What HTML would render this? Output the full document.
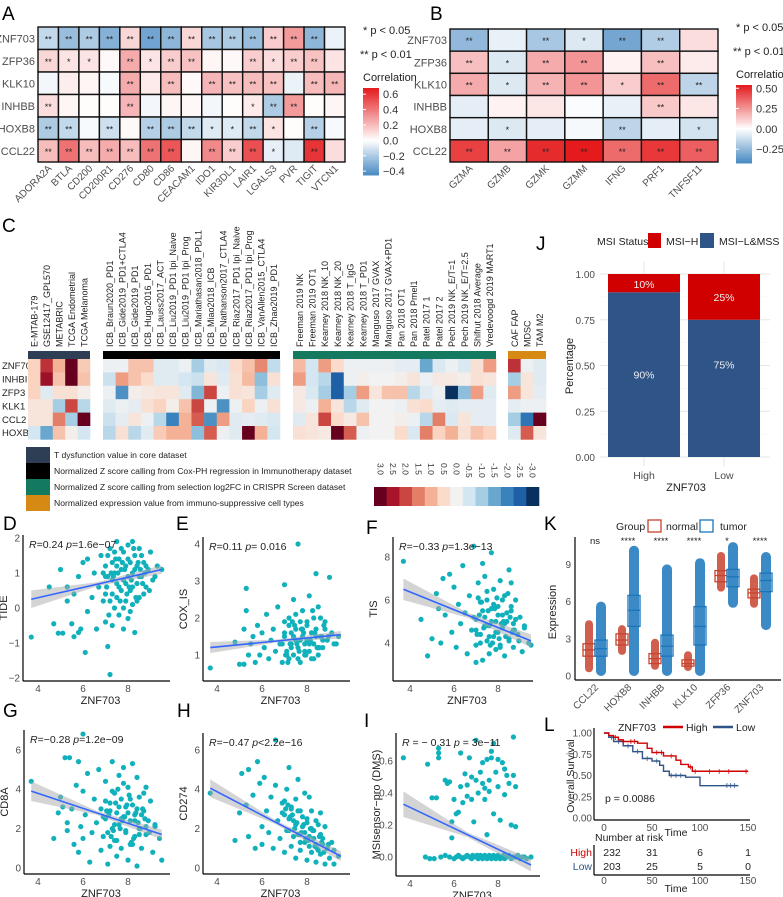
<!DOCTYPE html>
<html><head><meta charset="utf-8"><style>
body{margin:0;background:#fff}
svg{display:block;font-family:"Liberation Sans",sans-serif}
</style></head><body>
<svg id="fig" width="783" height="897" viewBox="0 0 783 897" xmlns="http://www.w3.org/2000/svg">
<rect width="783" height="897" fill="#fff"/>
<text x="2" y="20" font-size="19">A</text>
<text x="430" y="20" font-size="19">B</text>
<text x="2" y="232" font-size="19">C</text>
<text x="536" y="250" font-size="19">J</text>
<text x="3" y="530" font-size="19">D</text>
<text x="176" y="530" font-size="19">E</text>
<text x="366" y="534" font-size="19">F</text>
<text x="544" y="530" font-size="19">K</text>
<text x="3" y="717" font-size="19">G</text>
<text x="177" y="717" font-size="19">H</text>
<text x="364" y="727" font-size="19">I</text>
<text x="544" y="731" font-size="19">L</text>
</svg>
<script>
// ---------- DATA ----------
const aRows=['ZNF703','ZFP36','KLK10','INHBB','HOXB8','CCL22'];
const aCols=['ADORA2A','BTLA','CD200','CD200R1','CD276','CD80','CD86','CEACAM1','IDO1','KIR3DL1','LAIR1','LGALS3','PVR','TIGIT','VTCN1'];
const aVals=[
[-0.15,-0.25,-0.2,-0.3,0.12,-0.35,-0.28,0.12,-0.22,-0.2,-0.25,0.15,0.3,-0.28,-0.05],
[0.12,0.08,0.08,0.02,0.25,0.08,0.15,0.18,0.03,0.02,0.15,0.1,0.15,0.18,0.08],
[-0.03,0.05,0.03,-0.02,0.25,0.06,0.2,0.02,0.22,0.18,0.2,0.18,-0.05,0.2,0.22],
[0.1,0.03,0.01,0.01,0.22,-0.03,0.03,0.02,-0.03,0.01,0.06,-0.2,0.3,0.01,0.03],
[-0.2,-0.15,-0.02,-0.12,0.02,-0.18,-0.2,-0.15,-0.08,-0.08,-0.15,0.08,0.01,-0.18,-0.02],
[0.2,0.42,0.2,0.25,0.2,0.42,0.5,0.03,0.35,0.15,0.52,-0.06,-0.08,0.6,0.1]];
const aSig=[
['**','**','**','**','**','**','**','**','**','**','**','**','**','**',''],
['**','*','*','','**','*','**','**','','','**','*','**','**',''],
['','','','','**','','**','','**','**','**','**','','**','**'],
['**','','','','**','','','','','','*','**','**','',''],
['**','**','','**','','**','**','**','*','*','**','*','','**',''],
['**','**','**','**','**','**','**','','**','**','**','*','','**','']];
const aTicks=[0.6,0.4,0.2,0.0,-0.2,-0.4];

const bCols=['GZMA','GZMB','GZMK','GZMM','IFNG','PRF1','TNFSF11'];
const bVals=[
[-0.25,-0.05,-0.2,-0.08,-0.32,-0.18,0.08],
[0.15,-0.08,0.2,0.25,0.03,0.15,0.05],
[0.2,-0.08,0.18,0.25,0.12,0.35,-0.15],
[-0.06,0.03,0.06,-0.01,-0.05,0.13,0.06],
[-0.06,-0.08,-0.06,-0.02,-0.15,-0.06,-0.1],
[0.45,0.22,0.5,0.58,0.35,0.47,0.38]];
const bSig=[
['**','','**','*','**','**',''],
['**','*','**','**','','**',''],
['**','*','**','**','*','**','**'],
['','','','','','**',''],
['','*','','','**','','*'],
['**','**','**','**','**','**','**']];
const bTicks=[0.5,0.25,0.0,-0.25];

const cRows=['ZNF70','INHBI','ZFP3','KLK1','CCL2','HOXB'];
const cLab1=['E-MTAB-179','GSE12417_GPL570','METABRIC','TCGA Endometrial','TCGA Melanoma'];
const cLab2=['ICB_Braun2020_PD1','ICB_Gide2019_PD1+CTLA4','ICB_Gide2019_PD1','ICB_Hugo2016_PD1','ICB_Lauss2017_ACT','ICB_Liu2019_PD1 Ipi_Naive','ICB_Liu2019_PD1 Ipi_Prog','ICB_Mariathasan2018_PDL1','ICB_Miao2018_ICB','ICB_Nathanson2017_CTLA4','ICB_Riaz2017_PD1 Ipi_Naive','ICB_Riaz2017_PD1 Ipi_Prog','ICB_VanAllen2015_CTLA4','ICB_Zhao2019_PD1'];
const cLab3=['Freeman 2019 NK','Freeman 2019 OT1','Kearney 2018 NK_10','Kearney 2018 NK_20','Kearney 2018 T_IgG','Kearney 2018 T_PD1','Manguso 2017 GVAX','Manguso 2017 GVAX+PD1','Pan 2018 OT1','Pan 2018 Pmel1','Patel 2017 1','Patel 2017 2','Pech 2019 NK_E/T=1','Pech 2019 NK_E/T=2.5','Shifrut 2018 Average','Vredevoogd 2019 MART1'];
const cLab4=['CAF FAP','MDSC','TAM M2'];
const cG1=[[0.6,2.2,1.0,3,0.7],[0.6,2.6,0.8,3,0.8],[0.6,-0.3,0.4,0.4,0.1],[0.3,0.3,-1.0,2.0,-0.8],[0.3,0.3,1.5,-1.0,3],[-0.5,-1.5,0.8,0.1,-0.5]];
const cG2=[
[-0.1,-0.1,0.8,0.8,-0.3,-0.3,-0.1,-1.0,-0.3,-0.4,0.5,0.8,1.4,-0.7],
[-0.6,1.2,0.8,0.5,-0.3,-0.3,-0.5,-0.6,0.3,-0.3,0.4,0.9,-1.2,0.4],
[-0.1,-1.8,0.1,0.2,0.3,0.3,-0.3,-1.3,2.0,-0.1,0.4,0.3,-1.0,-0.3],
[-0.3,-0.1,-0.2,0.4,0.6,0.1,0.8,2.0,-0.1,-1.8,-0.1,0.6,-0.1,0.4],
[-0.6,-0.2,0.3,-0.1,-0.8,-2.0,1.0,1.8,-1.8,1.2,-0.3,-0.2,-0.3,-0.4],
[-0.8,0.4,-0.8,-0.3,0.7,1.0,1.0,-1.2,1.8,-0.1,-0.3,3,1.0,-0.5]];
const cG3=[
[0.9,-0.5,1.2,0.5,-0.1,-0.1,-0.1,-0.1,-0.2,-0.2,-1.5,-0.4,-0.1,-0.4,0.4,1.2],
[1.2,-0.5,-0.8,-2.5,-0.1,0.1,0,0,0.1,0.3,-0.1,0.2,0.2,0.1,0.4,0.3],
[0.2,-0.4,-1.0,-2.5,-1.0,1.2,0.3,0.8,0.8,-0.8,-0.3,-0.1,-3,-1.2,1.2,-0.3],
[0.2,-0.1,1.0,0.3,-0.8,-0.3,0,0,-0.1,0.4,0.5,-0.2,-0.3,-0.2,-0.2,-0.2],
[-0.3,0.3,2.0,0.5,0.2,0.8,0,0,0.1,-0.1,-0.8,1.5,-0.4,0.3,-0.2,-0.2],
[0.4,0.3,0.2,3,1.8,-0.1,0,0,0.5,-0.4,1.5,0.6,1.0,0.4,0.8,0.6]];
const cG4=[[2.2,-0.1,-0.3],[-1.0,0.3,-0.3],[1.2,0.3,-0.2],[-0.2,-0.1,-0.1],[-1.0,-2.2,3],[-0.3,1.8,0.3]];
const cScaleLabels=['3.0','2.5','2.0','1.5','1.0','0.5','0.0','-0.5','-1.0','-1.5','-2.0','-2.5','-3.0'];
const cLegendText=['T dysfunction value in core dataset','Normalized Z score calling from Cox-PH regression in Immunotherapy dataset','Normalized Z score calling from selection log2FC in CRISPR Screen dataset','Normalized expression value from immuno-suppressive cell types'];

const jGroups=['High','Low'];
const jMsiH=[10,25];
const jMsiL=[90,75];
const jTicks=[0,0.25,0.5,0.75,1];

const dX=[3.7,4.7,4.9,5.1,5.3,5.5,5.6,5.8,5.9,6.1,6.2,5.0,5.3,5.8,6.0,6.2,6.5,4.5,5.6,6.4,6.7,6.8,6.9,7.0,7.0,7.1,7.2,7.2,7.3,7.3,7.4,7.4,7.5,7.5,7.6,7.6,7.7,7.7,7.8,7.8,7.9,7.9,8.0,8.0,8.0,8.1,8.1,8.2,8.2,8.3,8.3,8.4,8.4,8.5,8.5,8.6,8.7,8.8,8.9,9.0,9.1,9.3,9.5,7.0,7.5,7.8,8.2,6.6,7.1,7.3,
6.9,7.0,7.1,7.2,7.3,7.4,7.5,7.6,7.7,7.8,7.9,8.0,8.1,8.2,8.3,8.4,8.5,8.6,8.7,8.8,7.05,7.25,7.45,7.65,7.85,8.05,8.25,8.45,8.65,7.15,7.35,7.55,7.75,7.95,8.15,8.35,8.55,8.75,8.95,9.2];
const dY=[-0.83,-0.45,-0.72,-0.72,0.2,-0.45,-0.82,-0.7,-0.6,-1.27,-0.1,1.1,0.6,0.9,1.3,1.4,1.0,0.6,0.4,0.3,0.6,1.5,0.2,1.2,-0.4,0.9,1.7,-1.9,0.4,1.3,0.0,1.0,0.7,1.9,-0.2,1.4,0.5,1.1,0.8,1.6,0.2,1.2,-0.3,0.9,1.8,0.5,1.3,0.1,1.0,1.5,-0.7,0.7,1.2,0.3,1.7,0.9,1.3,0.6,1.1,1.6,0.8,1.2,1.1,0.9,0.3,-0.6,1.9,-0.6,-1.1,-0.5,
1.0,0.4,1.5,0.2,0.8,1.6,1.2,0.6,1.7,0.0,0.7,1.4,-0.1,0.6,1.1,0.2,0.9,1.5,0.4,1.2,0.6,1.0,1.4,0.2,1.1,0.6,1.7,1.3,0.7,-0.2,0.9,1.0,1.3,0.4,0.8,0.3,1.1,1.0,0.5,0.9];
const dFit=[0.25,1.1];
const eX=[3.7,4.8,5.0,5.2,5.2,5.3,5.3,5.4,5.5,5.6,5.7,5.8,5.9,6.0,6.1,6.2,6.3,6.4,6.5,6.6,6.7,6.8,6.9,7.0,7.0,7.1,7.2,7.2,7.3,7.3,7.4,7.4,7.5,7.5,7.6,7.6,7.7,7.7,7.8,7.8,7.9,7.9,8.0,8.0,8.1,8.1,8.2,8.2,8.3,8.3,8.4,8.5,8.5,8.6,8.7,8.8,8.9,9.0,9.1,9.3,8.4,7.0,9.4,
6.9,7.0,7.1,7.2,7.3,7.4,7.5,7.6,7.7,7.8,7.9,8.0,8.1,8.2,8.3,8.4,8.5,8.6,8.7,8.8,7.05,7.25,7.45,7.65,7.85,8.05,8.25,8.45,8.65,7.15,7.35,7.55,7.75,7.95,8.15,8.35,8.55,8.75,8.95,9.2];
const eY=[0.65,1.35,0.75,0.75,1.7,2.8,2.2,1.0,1.3,1.5,0.8,1.8,1.0,1.6,1.2,2.1,0.9,1.4,1.7,1.1,2.3,1.3,0.8,1.9,1.5,1.1,2.0,0.9,1.6,1.3,2.5,1.0,1.7,1.4,4.0,1.2,1.9,0.8,1.5,2.2,1.3,1.0,1.8,1.4,2.6,1.1,1.6,0.9,2.0,1.3,1.7,1.0,2.3,1.5,1.2,1.9,1.4,3.1,1.6,1.3,3.2,2.9,1.5,
1.3,1.6,1.0,1.8,1.2,1.5,2.1,0.9,1.4,1.7,1.1,1.9,1.3,1.6,0.9,1.5,1.2,2.0,1.4,1.7,1.0,1.3,1.8,1.1,1.6,1.4,2.2,1.2,1.5,0.8,1.9,1.3,1.7,1.0,1.4,1.6,1.2,1.8,1.5,1.3];
const eFit=[1.2,1.55];
const fX=[3.7,4.5,4.8,5.0,5.2,5.3,5.4,5.5,5.6,5.8,5.9,6.0,6.1,6.2,6.3,6.4,6.5,6.6,6.7,6.8,6.9,7.0,7.0,7.1,7.2,7.2,7.3,7.4,7.4,7.5,7.5,7.6,7.6,7.7,7.7,7.8,7.8,7.9,7.9,8.0,8.0,8.1,8.1,8.2,8.2,8.3,8.3,8.4,8.5,8.5,8.6,8.7,8.7,8.8,8.9,9.0,9.1,9.2,9.4,9.5,7.3,8.6,7.0,
6.9,7.0,7.1,7.2,7.3,7.4,7.5,7.6,7.7,7.8,7.9,8.0,8.1,8.2,8.3,8.4,8.5,8.6,8.7,8.8,7.05,7.25,7.45,7.65,7.85,8.05,8.25,8.45,8.65,7.15,7.35,7.55,7.75,7.95,8.15,8.35,8.55,8.75,8.95,9.2];
const fY=[7.8,5.1,3.4,4.2,6.3,5.6,4.0,7.0,5.3,7.2,4.5,6.6,3.8,5.8,4.9,7.6,5.4,3.5,6.2,4.6,8.5,5.1,3.9,6.8,4.4,5.9,3.2,5.2,7.1,4.1,6.0,4.8,3.5,5.6,8.2,4.3,6.5,5.0,3.7,5.7,4.5,6.9,3.9,5.3,4.7,6.2,3.4,5.0,4.2,7.4,5.5,3.8,4.9,6.0,4.4,5.2,3.6,4.7,4.0,3.9,7.7,6.8,3.1,
5.2,4.6,6.1,4.0,5.5,4.8,6.4,4.3,5.0,5.8,4.5,5.3,3.8,6.0,4.9,5.4,4.1,5.7,4.6,5.1,4.4,5.9,4.8,3.9,5.6,4.2,5.0,6.3,4.5,5.3,4.7,5.5,4.0,6.1,4.9,4.3,5.2,4.6,4.1,4.8];
const fFit=[6.5,4.1];
const gX=[3.7,4.7,4.9,5.0,5.1,5.2,5.3,5.3,5.4,5.5,5.6,5.7,5.8,5.8,5.9,6.0,6.0,6.1,6.2,6.3,6.4,6.5,6.6,6.7,6.8,6.8,6.9,7.0,7.0,7.1,7.2,7.2,7.3,7.3,7.4,7.4,7.5,7.5,7.6,7.6,7.7,7.7,7.8,7.8,7.9,7.9,8.0,8.0,8.1,8.1,8.2,8.2,8.3,8.3,8.4,8.4,8.5,8.5,8.6,8.7,8.8,8.8,8.9,9.0,9.1,9.2,9.5,9.4,6.0,
6.9,7.0,7.1,7.2,7.3,7.4,7.5,7.6,7.7,7.8,7.9,8.0,8.1,8.2,8.3,8.4,8.5,8.6,8.7,8.8,7.05,7.25,7.45,7.65,7.85,8.05,8.25,8.45,8.65,7.15,7.35,7.55,7.75,7.95,8.15,8.35,8.55,8.75,8.95,9.2];
const gY=[4.4,1.5,2.8,3.6,3.1,5.6,1.9,2.3,5.6,3.0,1.2,4.2,5.4,0.8,2.1,3.9,1.5,2.7,4.8,0.3,1.8,3.5,2.3,5.0,0.9,3.0,1.6,4.4,2.5,0.2,3.3,1.1,5.4,2.0,3.8,1.4,2.8,0.6,4.7,2.2,3.5,1.0,2.6,5.1,1.8,3.1,0.4,4.1,2.4,1.2,5.3,3.2,1.6,2.7,0.1,4.6,2.0,3.6,1.0,2.9,4.1,1.7,2.4,3.4,0.8,2.1,0.4,1.5,6.8,
2.6,3.4,1.8,2.9,3.9,2.2,1.4,3.1,2.5,4.3,1.9,2.8,3.5,1.2,2.4,3.0,1.7,2.7,3.8,2.1,2.9,1.6,3.3,2.0,2.6,3.7,1.5,2.3,3.0,2.7,1.9,4.0,2.4,3.2,1.3,2.8,2.0,2.5,1.8,2.2];
const gFit=[3.9,1.7];
const hX=[3.7,4.8,5.0,5.1,5.3,5.4,5.4,5.6,5.7,5.8,5.9,6.0,6.0,6.1,6.2,6.3,6.4,6.5,6.6,6.6,6.7,6.8,6.9,7.0,7.0,7.1,7.2,7.3,7.3,7.4,7.5,7.5,7.6,7.7,7.7,7.8,7.9,7.9,8.0,8.0,8.1,8.2,8.2,8.3,8.4,8.4,8.5,8.6,8.7,8.8,8.9,9.0,9.1,9.2,9.4,7.2,7.6,8.1,8.6,
6.9,7.0,7.1,7.2,7.3,7.4,7.5,7.6,7.7,7.8,7.9,8.0,8.1,8.2,8.3,8.4,8.5,8.6,8.7,8.8,7.05,7.25,7.45,7.65,7.85,8.05,8.25,8.45,8.65,7.15,7.35,7.55,7.75,7.95,8.15,8.35,8.55,8.75,8.95,9.2];
const hY=[3.8,1.4,2.8,4.8,3.2,1.6,5.0,3.7,1.0,5.4,4.3,2.1,1.2,4.6,2.9,1.8,3.6,1.0,4.2,6.5,2.4,1.5,3.3,0.8,2.7,4.0,1.9,3.0,1.1,2.4,0.5,3.5,1.7,2.9,0.9,2.1,1.3,3.8,0.4,2.5,1.6,0.8,2.9,1.9,0.3,1.2,2.2,0.7,1.5,0.2,1.0,0.5,1.3,0.2,0.6,5.1,4.5,3.6,2.8,
2.8,3.4,1.9,2.5,3.1,1.6,2.2,2.9,1.3,2.6,1.8,2.3,1.1,2.0,1.5,2.4,0.9,1.7,1.2,2.1,3.0,2.6,2.0,1.7,2.2,1.4,1.9,1.0,1.3,3.2,2.7,2.3,1.8,1.5,2.0,1.1,1.6,0.8,1.2,0.9];
const hFit=[4.05,0.6];
const iX=[3.7,4.8,5.0,5.2,5.3,5.3,5.3,5.6,5.7,5.8,5.9,5.9,6.0,6.1,6.2,6.3,6.3,6.4,6.5,6.6,6.6,6.7,6.8,6.8,6.9,7.0,7.0,7.1,7.2,7.3,7.3,7.4,7.4,7.5,7.5,7.6,7.6,7.7,7.7,7.8,7.8,7.9,8.0,8.0,8.1,8.2,8.3,8.3,8.4,8.5,8.6,8.7,8.7,8.8,8.8,
4.7,4.9,5.1,5.4,5.6,5.8,6.0,6.1,6.2,6.3,6.4,6.5,6.6,6.7,6.8,6.85,6.9,7.0,7.05,7.1,7.15,7.2,7.25,7.3,7.35,7.4,7.45,7.5,7.55,7.6,7.65,7.7,7.75,7.8,7.85,7.9,7.95,8.0,8.05,8.1,8.15,8.2,8.25,8.3,8.35,8.4,8.5,8.6,8.7,8.8,8.9,9.0,9.1,9.2,9.3,9.5];
const iY=[0.62,0.58,0.37,0.37,0.68,0.65,0.62,0.48,0.46,0.47,0.22,0.12,0.36,0.27,0.28,0.65,0.44,0.34,0.52,0.45,0.38,0.62,0.50,0.36,0.22,0.73,0.48,0.40,0.53,0.46,0.59,0.43,0.36,0.61,0.14,0.48,0.41,0.66,0.62,0.27,0.71,0.53,0.44,0.61,0.23,0.59,0.55,0.39,0.51,0.46,0.20,0.75,0.51,0.44,0.19,
0.0,-0.01,-0.01,0.0,0.01,0.0,-0.01,0.0,0.01,0.0,-0.01,0.0,0.01,0.0,-0.01,0.01,0.0,0.0,0.01,-0.01,0.0,0.01,0.0,-0.01,0.0,0.01,0.0,-0.01,0.0,0.01,0.0,-0.01,0.0,0.01,0.0,-0.01,0.0,0.01,0.0,-0.01,0.0,0.0,0.01,-0.01,0.0,0.0,0.01,-0.01,0.0,0.0,0.01,-0.01,0.0,0.0,-0.01,0.0];
const iFit=[0.33,-0.05];

const kGenes=['CCL22','HOXB8','INHBB','KLK10','ZFP36','ZNF703'];
const kSigLabels=['ns','****','****','****','*','****'];
const kNormal=[[0.3,1.6,2.1,2.6,4.5],[1.7,2.5,2.9,3.4,4.1],[0.5,1.0,1.4,1.8,3.0],[0.4,0.8,1.0,1.3,2.0],[6.8,7.6,8.1,8.5,10.0],[5.5,6.3,6.7,7.0,8.2]];
const kTumor=[[0,1.6,2.2,2.9,6.0],[0,4.0,5.3,6.5,10.5],[0,1.6,2.4,3.3,9.0],[0,2.5,4.0,5.6,9.5],[5.5,7.2,8.0,8.6,10.8],[3.7,6.8,7.7,8.3,10.0]];
const kTicks=[0,3,6,9];

const lHighT=[0,5,10,15,20,35,45,50,62,75,80,88,92,150];
const lHighS=[1,0.97,0.95,0.92,0.9,0.88,0.82,0.77,0.73,0.68,0.63,0.6,0.55,0.55];
const lLowT=[0,5,10,20,30,40,50,58,62,68,85,100,140];
const lLowS=[1,0.95,0.9,0.85,0.78,0.7,0.67,0.62,0.55,0.5,0.48,0.38,0.38];
const lHighCens=[12,20,28,32,55,60,70,90,95,110,120,130,148];
const lLowCens=[8,15,25,35,45,55,70,75,80,128,132,136];
const lRiskTimes=[0,50,100,150];
const lRiskHigh=[232,31,6,1];
const lRiskLow=[203,25,5,0];
const lYTicks=[1,0.75,0.5,0.25,0];

// ---------- HELPERS ----------
const NS='http://www.w3.org/2000/svg';
const svg=document.getElementById('fig');
function mk(tag,attrs,parent){const e=document.createElementNS(NS,tag);for(const k in attrs)e.setAttribute(k,attrs[k]);(parent||svg).appendChild(e);return e;}
function tx(s,attrs,parent){const e=mk('text',attrs,parent);e.textContent=s;return e;}
function mix(a,b,t){return 'rgb('+a.map((v,i)=>Math.round(v+(b[i]-v)*t)).join(',')+')';}
const RED=[228,26,28],BLUE=[72,138,194],WHITE=[255,255,255];
function divColor(v,mn,mx){if(v>=0)return mix(WHITE,RED,Math.min(1,v/mx));return mix(WHITE,BLUE,Math.min(1,v/mn));}
const C13=[[103,0,31],[168,21,42],[203,70,65],[228,127,103],[244,177,150],[251,220,204],[242,242,242],[212,230,241],[165,205,227],[106,167,207],[58,130,189],[31,95,165],[9,48,95]];
function cColor(v){const p=(3-Math.max(-3,Math.min(3,v)))/0.5;const i=Math.min(11,Math.floor(p));const t=p-i;return mix(C13[i],C13[i+1],t);}

// ---------- HEATMAP A / B ----------
function corrHeat(rows,cols,vals,sig,x0,y0,w,h,mn,mx,tag){
  const cw=w/cols.length,rh=h/rows.length;
  rows.forEach((r,i)=>{
    const t=tx(r,{x:x0-3,y:y0+rh*i+rh/2+4,'font-size':11,'text-anchor':'end',fill:'#4d4d4d'});
    
    
  });
  vals.forEach((row,i)=>row.forEach((v,j)=>{
    const c=mk('rect',{x:x0+j*cw,y:y0+i*rh,width:cw,height:rh,fill:divColor(v,mn,mx),stroke:'#111','stroke-width':1.4});
    
    
    if(sig[i][j]){const s=tx(sig[i][j],{x:x0+j*cw+cw/2,y:y0+i*rh+rh/2+4,'font-size':9,'text-anchor':'middle',fill:'#222'});
      
      }
  }));
  cols.forEach((c,j)=>{
    const cx=x0+j*cw+cw/2+4,cy=y0+h+7;
    const t=tx(c,{x:cx,y:cy,'font-size':10,'text-anchor':'end',fill:'#4d4d4d',transform:'rotate(-45 '+cx+' '+cy+')'});
    
    
  });
}
corrHeat(aRows,aCols,aVals,aSig,38,27,307,135,-0.45,0.68,'a');
corrHeat(aRows,bCols,bVals,bSig,450,29,268,133,-0.42,0.54,'b');

function corrLegend(x,ytop,ybot,mn,mx,ticks,tag){
  const p1=tx('* p < 0.05',{x:x,y:ytop-54,'font-size':11,fill:'#222'});
  
  
  const p2=tx('** p < 0.01',{x:x-3,y:ytop-30,'font-size':11,fill:'#222'});
  
  
  const ct=tx('Correlation',{x:x,y:ytop-7,'font-size':11,fill:'#222'});
  
  
  const n=40,hh=(ybot-ytop)/n;
  for(let k=0;k<n;k++){const v=mx-(mx-mn)*(k+0.5)/n;
    const r=mk('rect',{x:x,y:ytop+k*hh,width:16,height:hh+0.5,fill:divColor(v,mn,mx)});
    
    }
  ticks.forEach(tv=>{const y=ytop+(mx-tv)/(mx-mn)*(ybot-ytop);
    const l=mk('line',{x1:x,x2:x+3,y1:y,y2:y,stroke:'#fff'});
    
    
    const t=tx(tv.toFixed(tag==='a'?1:2).replace('-','\u2212'),{x:x+20,y:y+4,'font-size':11,fill:'#333'});
    
    });
}
corrLegend(363,88,175,-0.45,0.68,aTicks,'a');
corrLegend(736,85,163,-0.42,0.54,bTicks,'b');

// ---------- HEATMAP C ----------
const cGroups=[[cG1,cLab1,28,90,'#2e3f55'],[cG2,cLab2,103,280,'#000000'],[cG3,cLab3,293,496,'#147a5f'],[cG4,cLab4,508,546,'#d68a13']];
const cTop=359,cRh=13.4;
cRows.forEach((r,i)=>{const t=tx(r,{x:2,y:cTop+cRh*i+cRh/2+3.5,'font-size':9.5,fill:'#222'});
  
  });
cGroups.forEach((g,gi)=>{
  const [vals,labs,x0,x1,col]=g;const cw=(x1-x0)/labs.length;
  const bar=mk('rect',{x:x0,y:351,width:x1-x0,height:8,fill:col});
  
  
  labs.forEach((lb,j)=>{const lx=x0+j*cw+cw/2+3.5;
    const t=tx(lb,{x:lx,y:347,'font-size':9,fill:'#222',transform:'rotate(-90 '+lx+' 347)'});
    
    });
  vals.forEach((row,i)=>row.forEach((v,j)=>{
    const r=mk('rect',{x:x0+j*cw,y:cTop+i*cRh,width:cw+0.3,height:cRh+0.3,fill:cColor(v)});
    
    }));
});
cLegendText.forEach((s,i)=>{
  const r=mk('rect',{x:26,y:447+i*16,width:24,height:16,fill:cGroups[i][4]});
  
  
  const t=tx(s,{x:54,y:458+i*16,'font-size':8.6,fill:'#222'});
  
  });
cScaleLabels.forEach((s,i)=>{const sw=165/13,x=374+i*sw;
  const r=mk('rect',{x:x,y:487,width:sw+0.3,height:19,fill:mix(C13[i],C13[i],0)});
  
  
  const lx=x+sw/2-3;
  const t=tx(s,{x:lx,y:463,'font-size':8.6,fill:'#333',transform:'rotate(90 '+lx+' 463)'});
  
  });

// ---------- J stacked bars ----------
{const y0=457,y1=274,H=y0-y1,bx=[608,688],bw=72;
 const mt=tx('MSI Status',{x:597,y:245,'font-size':10.5,fill:'#222'});
 
 
 const r1=mk('rect',{x:648,y:233,width:13,height:15,fill:'#d10000'});
 
 
 const t1=tx('MSI\u2212H',{x:666,y:245,'font-size':10.5,fill:'#222'});
 
 
 const r2=mk('rect',{x:700,y:233,width:14,height:15,fill:'#2f5488'});
 
 
 const t2=tx('MSI\u2212L&MSS',{x:719,y:245,'font-size':10.5,fill:'#222'});
 
 
 for(let k=0;k<=8;k++){const y=y0-H*k/8;
   const g=mk('line',{x1:600,x2:770,y1:y,y2:y,stroke:k%2?'#f3f3f3':'#e6e6e6','stroke-width':k%2?0.6:1});
   
   }
 jTicks.forEach(v=>{const t=tx(v.toFixed(2),{x:595,y:y0-H*v+4,'font-size':10,fill:'#4d4d4d','text-anchor':'end'});
   
   });
 jGroups.forEach((g,i)=>{
   const vg=mk('line',{x1:bx[i]+bw/2,x2:bx[i]+bw/2,y1:262,y2:466,stroke:'#e6e6e6'});
   
   
   const lowH=H*jMsiL[i]/100,hiH=H*jMsiH[i]/100;
   const b1=mk('rect',{x:bx[i],y:y0-lowH,width:bw,height:lowH,fill:'#2f5488'});
   
   
   const b2=mk('rect',{x:bx[i],y:y0-lowH-hiH,width:bw,height:hiH,fill:'#d10000'});
   
   
   const l1=tx(jMsiL[i]+'%',{x:bx[i]+bw/2,y:y0-lowH/2+(i?-20:4),'font-size':10.5,fill:'#eee','text-anchor':'middle'});
   
   
   const l2=tx(jMsiH[i]+'%',{x:bx[i]+bw/2,y:y0-lowH-hiH/2+4+(i?0:1),'font-size':10.5,fill:'#eee','text-anchor':'middle'});
   
   
   const xl=tx(g,{x:bx[i]+bw/2,y:479,'font-size':10.5,fill:'#4d4d4d','text-anchor':'middle'});
   
   });
 const xt=tx('ZNF703',{x:686,y:491,'font-size':11,fill:'#222','text-anchor':'middle'});
 
 
 const yt=tx('Percentage',{x:573,y:366,'font-size':11,fill:'#222','text-anchor':'middle',transform:'rotate(-90 573 366)'});
 
 }

// ---------- SCATTERS ----------
function scatter(xs,ys,fit,cfg){
  const px=x=>cfg.ox+(x-4)*cfg.sx, py=y=>cfg.oy-(y-cfg.y0)*cfg.sy;
  const tag=cfg.tag;
  cfg.yticks.forEach(v=>{const y=py(v);
    const t=tx(cfg.fmt?cfg.fmt(v):String(v).replace('-','\u2212'),{x:cfg.ax-3,y:y+3.5,'font-size':10,fill:'#4d4d4d','text-anchor':'end'});
    
    });
  [4,6,8].forEach(v=>{const x=px(v);
    const t=tx(String(v),{x:x,y:cfg.bot+11,'font-size':10,fill:'#4d4d4d','text-anchor':'middle'});
    
    });
  const xa=mk('line',{x1:cfg.ax,x2:cfg.right,y1:cfg.bot,y2:cfg.bot,stroke:'#000','stroke-width':1.2});
  
  
  const ya=mk('line',{x1:cfg.ax,x2:cfg.ax,y1:cfg.top,y2:cfg.bot,stroke:'#000','stroke-width':1.2});
  
  
  const xt=tx('ZNF703',{x:(cfg.ax+cfg.right)/2+4,y:cfg.bot+23,'font-size':11,fill:'#222','text-anchor':'middle'});
  
  
  const ym=(cfg.top+cfg.bot)/2;
  const yt=tx(cfg.ylab,{x:cfg.ax-16,y:ym,'font-size':11,fill:'#222','text-anchor':'middle',transform:'rotate(-90 '+(cfg.ax-16)+' '+ym+')'});
  
  
  xs.forEach((x,i)=>{const c=mk('circle',{cx:px(x),cy:py(ys[i]),r:2.6,fill:'#11b1bc'});
    
    });
  const fy=x=>fit[0]+(fit[1]-fit[0])*(x-3.7)/5.8;
  const w=cfg.band,xm=6.6;
  const pts=[[3.7,fy(3.7)+w[0]],[xm,fy(xm)+w[1]],[9.5,fy(9.5)+w[2]],[9.5,fy(9.5)-w[2]],[xm,fy(xm)-w[1]],[3.7,fy(3.7)-w[0]]];
  const band=mk('polygon',{points:pts.map(p=>px(p[0])+','+py(p[1])).join(' '),fill:'#aaaaaa','fill-opacity':0.5});
  
  
  const ln=mk('line',{x1:px(3.7),y1:py(fit[0]),x2:px(9.5),y2:py(fit[1]),stroke:'#3366ff','stroke-width':1.6});
  
  
  const an=mk('text',{x:cfg.ax+6,y:cfg.top+13,'font-size':10.5,fill:'#222'});
  an.innerHTML=cfg.ann;
  
  
}
scatter(dX,dY,dFit,{tag:'d',ox:38,sx:22.5,oy:608,y0:0,sy:35,ax:23,bot:681,top:535,right:170,yticks:[-2,-1,0,1,2],ylab:'TIDE',band:[0.25,0.06,0.12],ann:'<tspan font-style="italic">R</tspan>=0.24 <tspan font-style="italic">p</tspan>=1.6e\u221207'});
scatter(eX,eY,eFit,{tag:'e',ox:217,sx:22.5,oy:655,y0:1,sy:37,ax:203,bot:681,top:537,right:350,yticks:[1,2,3,4],ylab:'COX_IS',band:[0.15,0.04,0.1],ann:'<tspan font-style="italic">R</tspan>=0.11 <tspan font-style="italic">p</tspan>= 0.016'});
scatter(fX,fY,fFit,{tag:'f',ox:410,sx:22,oy:600,y0:6,sy:21.5,ax:393,bot:681,top:537,right:533,yticks:[4,6,8],ylab:'TIS',band:[0.5,0.12,0.3],ann:'<tspan font-style="italic">R</tspan>=\u22120.33 <tspan font-style="italic">p</tspan>=1.3e\u221213'});
scatter(gX,gY,gFit,{tag:'g',ox:38,sx:22.5,oy:868,y0:0,sy:19.7,ax:24,bot:874,top:730,right:170,yticks:[0,2,4,6],ylab:'CD8A',band:[0.5,0.1,0.25],ann:'<tspan font-style="italic">R</tspan>=\u22120.28 <tspan font-style="italic">p</tspan>=1.2e\u221209'});
scatter(hX,hY,hFit,{tag:'h',ox:217,sx:22.5,oy:868,y0:0,sy:19.7,ax:203,bot:874,top:733,right:350,yticks:[0,2,4,6],ylab:'CD274',band:[0.45,0.1,0.25],ann:'<tspan font-style="italic">R</tspan>=\u22120.47 <tspan font-style="italic">p</tspan>&lt;2.2e\u221216'});
scatter(iX,iY,iFit,{tag:'i',ox:410,sx:22,oy:857,y0:0,sy:160,ax:396,bot:876,top:733,right:540,yticks:[0,0.2,0.4,0.6],fmt:v=>v.toFixed(1),ylab:'MSIsensor\u2212pro (DMS)',band:[0.08,0.015,0.04],ann:'<tspan font-style="italic">R</tspan> = \u2212 0.31 <tspan font-style="italic">p</tspan> = 3e\u221211'});

// ---------- K boxplots ----------
{const ky=v=>676-v*12.4, cx0=595, step=33;
 const yax=mk('line',{x1:575,x2:575,y1:537,y2:680,stroke:'#000','stroke-width':1.2});
 
 
 const xax=mk('line',{x1:575,x2:781,y1:680,y2:680,stroke:'#000','stroke-width':1.2});
 
 
 kTicks.forEach(v=>{const t=tx(String(v),{x:571,y:ky(v)+3.5,'font-size':10,fill:'#4d4d4d','text-anchor':'end'});
   
   });
 const yt=tx('Expression',{x:556,y:612,'font-size':11,fill:'#222','text-anchor':'middle',transform:'rotate(-90 556 612)'});
 
 
 const gt=tx('Group',{x:616,y:530,'font-size':10.5,fill:'#222'});
 
 
 [['normal',648,666,'#c8432e'],['tumor',700,720,'#1a75bb']].forEach(L=>{
   const b=mk('rect',{x:L[1],y:520,width:13,height:12,fill:'none',stroke:L[3],'stroke-width':1.3});
   
   
   const t=tx(L[0],{x:L[2],y:530,'font-size':10.5,fill:'#222'});
   
   });
 kGenes.forEach((g,i)=>{const c=cx0+i*step;
   const sl=tx(kSigLabels[i],{x:c,y:544,'font-size':9.5,fill:'#222','text-anchor':'middle'});
   
   
   [[kNormal[i],-6,'#c8432e',4],[kTumor[i],6,'#1a75bb',5]].forEach(S=>{
     const [st,off,col,hw]=S;const x=c+off;
     const strip=mk('rect',{x:x-hw,y:ky(st[4]),width:hw*2,height:ky(st[0])-ky(st[4]),rx:hw,fill:col,'fill-opacity':0.85});
     
     
     const bx=mk('rect',{x:x-6,y:ky(st[3]),width:12,height:ky(st[1])-ky(st[3]),fill:'none',stroke:col,'stroke-width':1.3});
     
     
     const md=mk('line',{x1:x-6,x2:x+6,y1:ky(st[2]),y2:ky(st[2]),stroke:col,'stroke-width':1.3});
     
     });
   const lx=c+4;
   const t=tx(g,{x:lx,y:688,'font-size':10,fill:'#4d4d4d','text-anchor':'end',transform:'rotate(-45 '+lx+' 688)'});
   
   });}

// ---------- L KM ----------
{const lx=t=>604+t*0.96, ly=s=>818-s*85;
 const ya=mk('line',{x1:594,x2:594,y1:728,y2:820,stroke:'#000','stroke-width':1.2});
 
 
 const xa=mk('line',{x1:594,x2:750,y1:820,y2:820,stroke:'#000','stroke-width':1.2});
 
 
 lYTicks.forEach(v=>{const t=tx(v.toFixed(2),{x:592,y:ly(v)+3.5,'font-size':10,fill:'#4d4d4d','text-anchor':'end'});
   
   });
 lRiskTimes.forEach(v=>{const t=tx(String(v),{x:lx(v),y:831,'font-size':10,fill:'#4d4d4d','text-anchor':'middle'});
   
   });
 const tt=tx('Time',{x:676,y:836,'font-size':10.5,fill:'#222','text-anchor':'middle'});
 
 
 const yt=tx('Overall Survival',{x:574,y:776,'font-size':10.5,fill:'#222','text-anchor':'middle',transform:'rotate(-90 574 776)'});
 
 
 function step(T,S,col,cens,name){let d='M'+lx(T[0])+','+ly(S[0]);
   for(let k=1;k<T.length;k++){d+=' H'+lx(T[k])+' V'+ly(S[k]);}
   const p=mk('path',{d:d,fill:'none',stroke:col,'stroke-width':1.4});
   
   
   cens.forEach(ct=>{let s=S[0];for(let k=0;k<T.length;k++)if(T[k]<=ct)s=S[k];
     const m=tx('+',{x:lx(ct),y:ly(s)+3.5,'font-size':10,fill:col,'text-anchor':'middle'});
     
     });}
 step(lLowT,lLowS,'#2f5488',lLowCens,'low');
 step(lHighT,lHighS,'#d10000',lHighCens,'high');
 const lt=tx('ZNF703',{x:618,y:731,'font-size':10.5,fill:'#222'});
 
 
 const l1=mk('line',{x1:663,x2:683,y1:727,y2:727,stroke:'#d10000','stroke-width':2.5});
 
 
 const h1=tx('High',{x:686,y:731,'font-size':10.5,fill:'#222'});
 
 
 const l2=mk('line',{x1:713,x2:733,y1:727,y2:727,stroke:'#2f5488','stroke-width':2.5});
 
 
 const h2=tx('Low',{x:736,y:731,'font-size':10.5,fill:'#222'});
 
 
 const pv=tx('p = 0.0086',{x:605,y:802,'font-size':10.5,fill:'#222'});
 
 
 const nr=tx('Number at risk',{x:595,y:841,'font-size':10.5,fill:'#222'});
 
 
 const rh=tx('High',{x:592,y:856,'font-size':10.5,fill:'#d10000','text-anchor':'end'});
 
 
 const rl=tx('Low',{x:592,y:870,'font-size':10.5,fill:'#2f5488','text-anchor':'end'});
 
 
 lRiskTimes.forEach((t,k)=>{
   const a=tx(String(lRiskHigh[k]),{x:lx(t)+(k?0:8),y:856,'font-size':10.5,fill:'#222','text-anchor':'middle'});
   
   
   const b=tx(String(lRiskLow[k]),{x:lx(t)+(k?0:8),y:870,'font-size':10.5,fill:'#222','text-anchor':'middle'});
   
   
   const c=tx(String(t),{x:lx(t),y:884,'font-size':10,fill:'#4d4d4d','text-anchor':'middle'});
   
   });
 const ra=mk('line',{x1:594,x2:750,y1:875,y2:875,stroke:'#000','stroke-width':1.2});
 
 
 const rv=mk('line',{x1:594,x2:594,y1:845,y2:875,stroke:'#000','stroke-width':1.2});
 
 
 const t2=tx('Time',{x:676,y:892,'font-size':10.5,fill:'#222','text-anchor':'middle'});
 
 }
</script>
</body></html>
